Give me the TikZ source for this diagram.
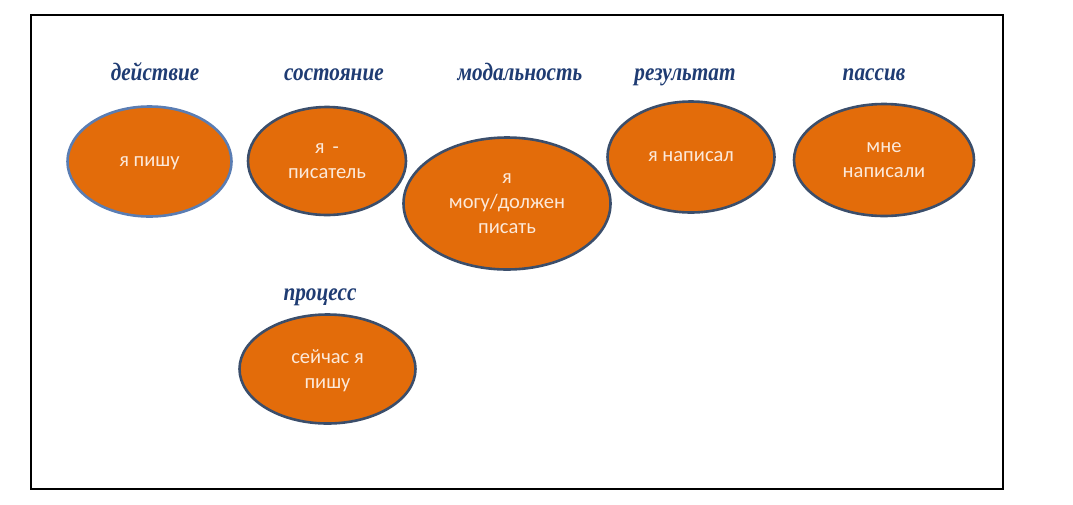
\documentclass[tikz,border=0pt]{standalone}
\usepackage{fontspec}
\setmainfont{Carlito}
\newfontfamily\labelfont[FakeStretch=0.85]{Liberation Serif}
\usetikzlibrary{shapes.geometric}
\definecolor{orfill}{HTML}{E36C0A}
\definecolor{orline}{HTML}{3B4E6B}
\definecolor{orlinelight}{HTML}{5A7DB3}
\definecolor{lbl}{HTML}{1F3C73}
\definecolor{intext}{HTML}{FCE9DA}
\tikzset{
  oval/.style={ellipse, fill=orfill, draw=orline, line width=2.6pt, inner sep=0pt,
    align=center, text=intext, text depth=-7pt, font=\fontsize{20.5}{25}\selectfont},
  cat/.style={text=lbl, anchor=base, font=\labelfont\bfseries\itshape\fontsize{25}{28}\selectfont},
  frame/.style={draw=black, line width=2pt}
}
\begin{document}
\begin{tikzpicture}[x=1pt,y=-1pt]
\useasboundingbox (0,0) rectangle (1073,504);
\draw[frame] (31,15) rectangle (1003,489);
% ovals
\node[oval, draw=orlinelight, minimum width=164pt, minimum height=110pt] (o1) at (149.5,161.5) {я пишу};
\node[oval, minimum width=158pt, minimum height=108pt] (o2) at (327,161) {я \,-\\писатель};
\node[oval, minimum width=207pt, minimum height=132pt] (o3) at (507,203.5) {я\\могу/должен\\писать};
\node[oval, minimum width=167pt, minimum height=111pt] (o4) at (691,157) {я написал};
\node[oval, minimum width=180pt, minimum height=112pt] (o5) at (884,160) {мне\\написали};
\node[oval, minimum width=176pt, minimum height=109pt] (o6) at (327.5,369) {сейчас я\\пишу};
% labels
\node[cat] (l1) at (155,80) {действие};
\node[cat] (l2) at (334,80) {состояние};
\node[cat] (l3) at (520,80) {модальность};
\node[cat] (l4) at (685,80) {результат};
\node[cat] (l5) at (874,80) {пассив};
\node[cat] (l6) at (320,300) {процесс};
\end{tikzpicture}
\end{document}
